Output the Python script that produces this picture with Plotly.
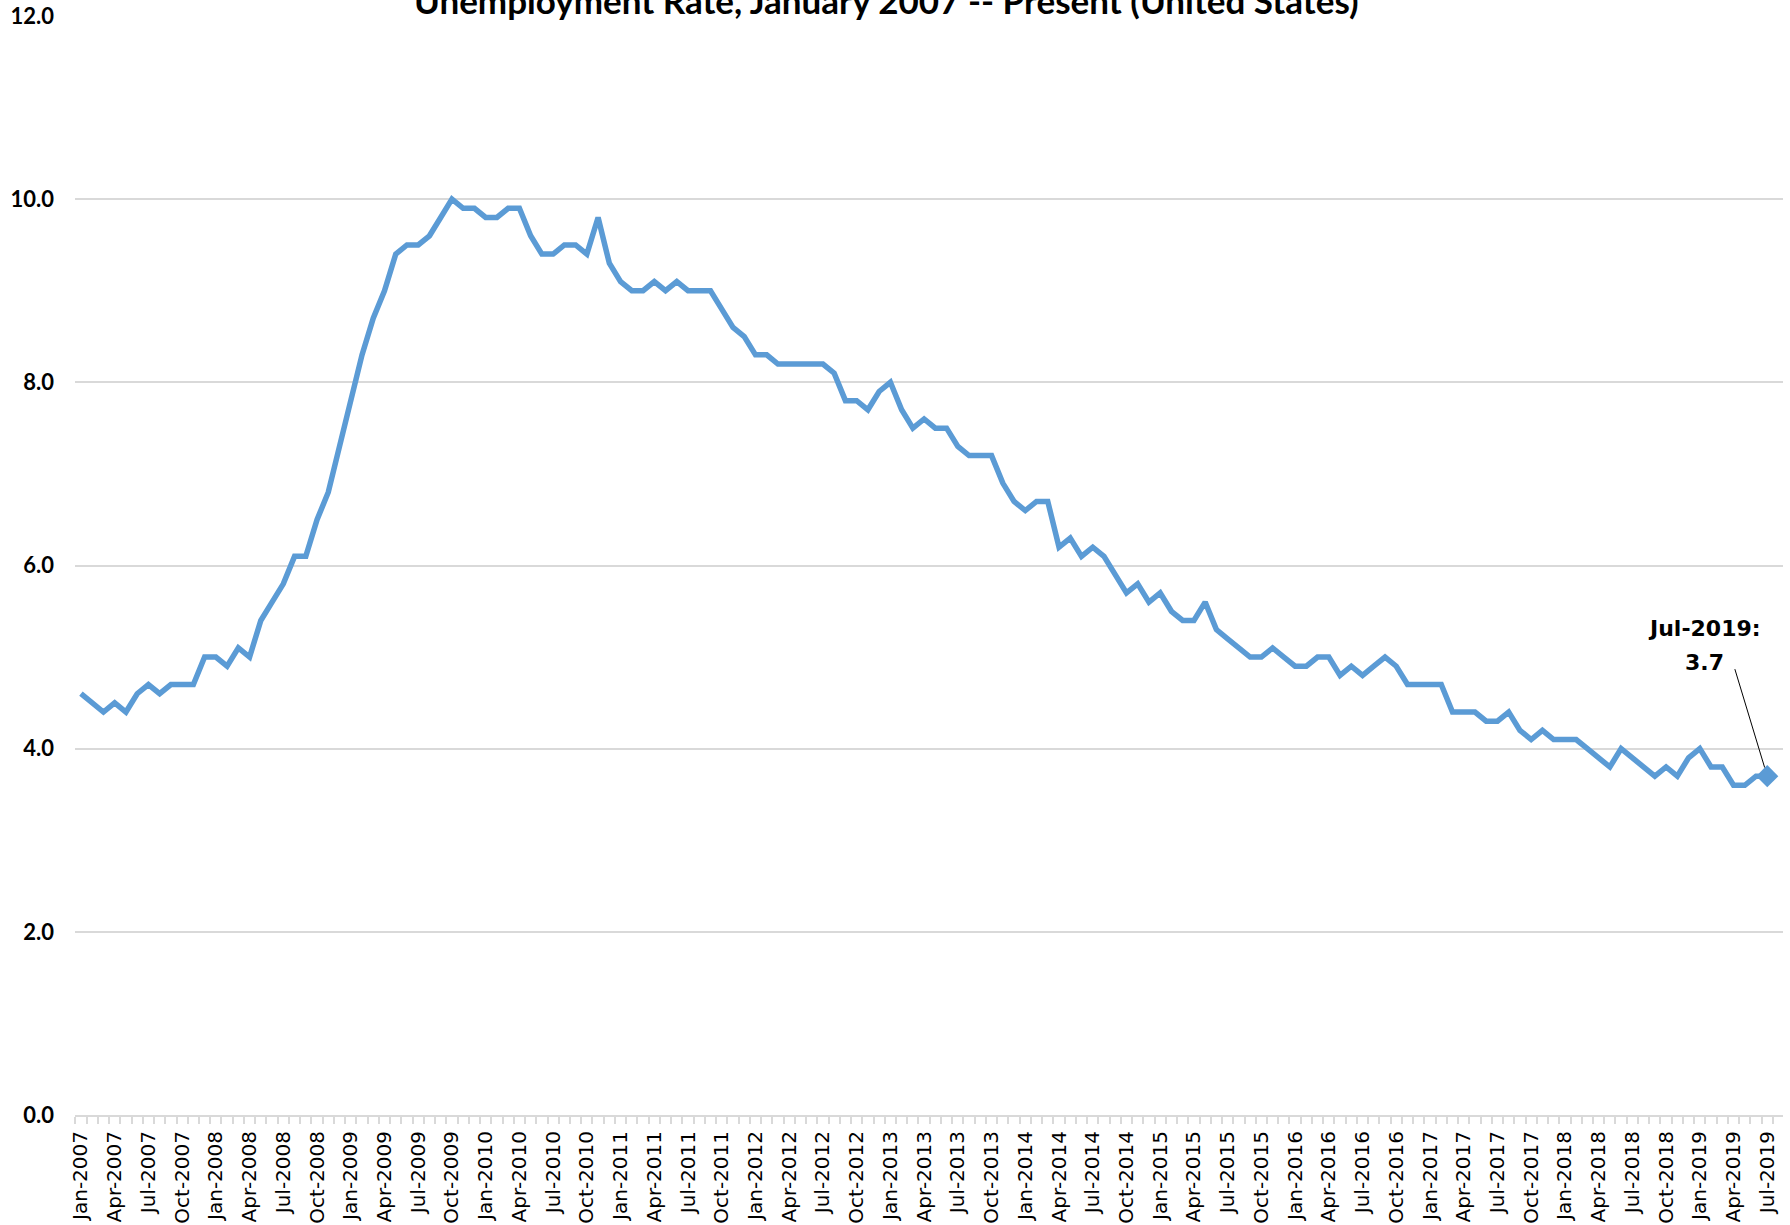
import plotly.graph_objects as go

# unemployment rate (%), monthly, one list per year
rate_2007 = [4.6, 4.5, 4.4, 4.5, 4.4, 4.6, 4.7, 4.6, 4.7, 4.7, 4.7, 5.0]
rate_2008 = [5.0, 4.9, 5.1, 5.0, 5.4, 5.6, 5.8, 6.1, 6.1, 6.5, 6.8, 7.3]
rate_2009 = [7.8, 8.3, 8.7, 9.0, 9.4, 9.5, 9.5, 9.6, 9.8, 10.0, 9.9, 9.9]
rate_2010 = [9.8, 9.8, 9.9, 9.9, 9.6, 9.4, 9.4, 9.5, 9.5, 9.4, 9.8, 9.3]
rate_2011 = [9.1, 9.0, 9.0, 9.1, 9.0, 9.1, 9.0, 9.0, 9.0, 8.8, 8.6, 8.5]
rate_2012 = [8.3, 8.3, 8.2, 8.2, 8.2, 8.2, 8.2, 8.1, 7.8, 7.8, 7.7, 7.9]
rate_2013 = [8.0, 7.7, 7.5, 7.6, 7.5, 7.5, 7.3, 7.2, 7.2, 7.2, 6.9, 6.7]
rate_2014 = [6.6, 6.7, 6.7, 6.2, 6.3, 6.1, 6.2, 6.1, 5.9, 5.7, 5.8, 5.6]
rate_2015 = [5.7, 5.5, 5.4, 5.4, 5.6, 5.3, 5.2, 5.1, 5.0, 5.0, 5.1, 5.0]
rate_2016 = [4.9, 4.9, 5.0, 5.0, 4.8, 4.9, 4.8, 4.9, 5.0, 4.9, 4.7, 4.7]
rate_2017 = [4.7, 4.7, 4.4, 4.4, 4.4, 4.3, 4.3, 4.4, 4.2, 4.1, 4.2, 4.1]
rate_2018 = [4.1, 4.1, 4.0, 3.9, 3.8, 4.0, 3.9, 3.8, 3.7, 3.8, 3.7, 3.9]
rate_2019 = [4.0, 3.8, 3.8, 3.6, 3.6, 3.7, 3.7]

month_names = ['Jan', 'Feb', 'Mar', 'Apr', 'May', 'Jun',
               'Jul', 'Aug', 'Sep', 'Oct', 'Nov', 'Dec']
years = list(range(2007, 2020))
y_ticks = [0, 2, 4, 6, 8, 10, 12]

title_text = 'Unemployment Rate, January 2007 -- Present (United States)'

rates = (rate_2007 + rate_2008 + rate_2009 + rate_2010 + rate_2011 + rate_2012
         + rate_2013 + rate_2014 + rate_2015 + rate_2016 + rate_2017 + rate_2018
         + rate_2019)

labels = []
for y in years:
    for m in month_names:
        labels.append(m + '-' + str(y))
labels = labels[:len(rates)]

idx = list(range(len(rates)))
tick_idx = idx[::3]
tick_txt = [labels[i] for i in tick_idx]

last_label = labels[-1] + ':'
last_value = '%.1f' % rates[-1]

blue = '#5b9bd5'
grid = '#d9d9d9'

line = go.Scatter(
    x=idx,
    y=rates,
    mode='lines',
    line=dict(color=blue, width=5.5),
    hoverinfo='skip'
)

last = go.Scatter(
    x=[idx[-1]],
    y=[rates[-1]],
    mode='markers',
    marker=dict(symbol='diamond', size=17, color=blue),
    hoverinfo='skip'
)

fig = go.Figure(data=[line, last])

note_font = dict(family='DejaVu Sans', size=22, color='#000000')

fig.update_layout(
    width=1790,
    height=1225,
    showlegend=False,
    plot_bgcolor='white',
    paper_bgcolor='white',
    margin=dict(l=75, r=7, t=16, b=110),
    xaxis=dict(
        range=[-0.53, 151.4],
        tickmode='array',
        tickvals=tick_idx,
        ticktext=tick_txt,
        tickangle=-90,
        ticks='',
        ticklabelstandoff=6,
        showgrid=False,
        zeroline=False,
        showline=True,
        linecolor=grid,
        linewidth=2,
        tickfont=dict(family='DejaVu Sans', size=20, color='#000000'),
        minor=dict(tick0=0.5, dtick=1, ticks='outside', ticklen=7,
                   tickwidth=1.5, tickcolor=grid, showgrid=False),
        automargin=False
    ),
    yaxis=dict(
        range=[0, 12],
        tickvals=y_ticks,
        tickformat='.1f',
        showgrid=True,
        gridcolor=grid,
        gridwidth=2,
        zeroline=False,
        ticks='',
        ticklabelstandoff=20,
        tickfont=dict(family='Lato', size=22, color='#000000', weight='bold'),
        automargin=False
    ),
    annotations=[
        dict(
            text='<b>' + title_text + '</b>',
            xref='paper', yref='paper',
            x=0.475, y=0.9935,
            xanchor='center', yanchor='bottom',
            showarrow=False,
            font=dict(family='Lato', size=35, color='#000000')
        ),
        dict(
            text='<b>' + last_label + '</b>',
            x=idx[-1], y=rates[-1],
            xanchor='center', yanchor='middle',
            xshift=-63, yshift=148,
            showarrow=False,
            font=note_font
        ),
        dict(
            text='<b>' + last_value + '</b>',
            x=idx[-1], y=rates[-1],
            xanchor='center', yanchor='middle',
            xshift=-63, yshift=114,
            showarrow=False,
            font=note_font
        ),
        dict(
            text=' ',
            x=idx[-1], y=rates[-1],
            showarrow=True,
            arrowhead=0,
            arrowwidth=1,
            arrowcolor='#000000',
            ax=-33, ay=-109,
            standoff=9,
            font=dict(size=1)
        )
    ]
)

# drop the default page margin so the chart sits at the window corner
fig.write_html("out.html",
               config={'displayModeBar': False},
               post_script="document.body.style.margin='0';"
                           "document.body.style.overflow='hidden';")
